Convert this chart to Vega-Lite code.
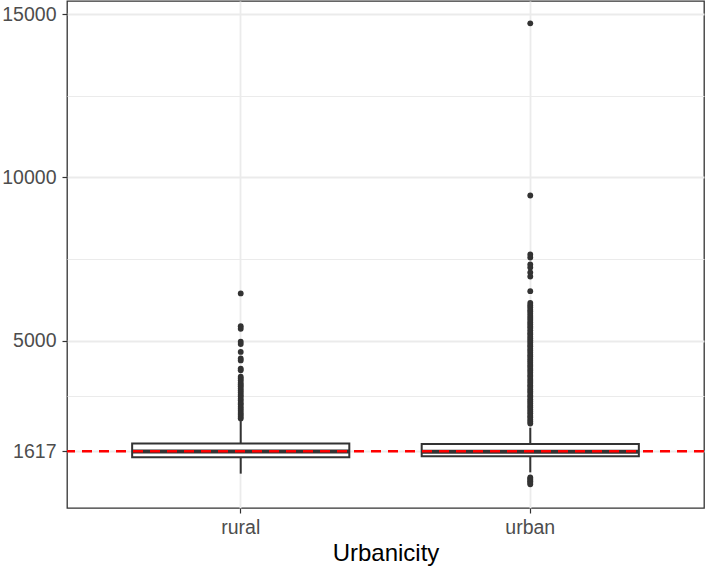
{
  "$schema": "https://vega.github.io/schema/vega-lite/v6.json",
  "width": 637,
  "height": 507,
  "autosize": {"type": "none"},
  "padding": {"left": 67, "top": 1, "right": 1, "bottom": 62},
  "background": "white",
  "config": {
    "font": "Liberation Sans",
    "view": {"stroke": "#333333", "strokeWidth": 1.3},
    "axis": {"domain": false, "gridColor": "#EBEBEB", "tickColor": "#333333", "labelColor": "#4D4D4D", "labelFontSize": 19.5, "titleFontWeight": "normal", "titleColor": "#000000"}
  },
  "datasets": {
    "boxes": [
      {"area": "rural", "lo": 935, "q1": 1440, "med": 1610, "q3": 1855, "hi": 2544},
      {"area": "urban", "lo": 975, "q1": 1464, "med": 1607, "q3": 1846, "hi": 2342}
    ],
    "refline": [{"cutoff": 1617}],
    "outliers": [
      {"area": "rural", "v": 6449}, {"area": "rural", "v": 5449}, {"area": "rural", "v": 5369},
      {"area": "rural", "v": 4975}, {"area": "rural", "v": 4900}, {"area": "rural", "v": 4660},
      {"area": "rural", "v": 4460}, {"area": "rural", "v": 4400}, {"area": "rural", "v": 4150},
      {"area": "rural", "v": 4100}, {"area": "rural", "v": 3900}, {"area": "rural", "v": 3850},
      {"area": "rural", "v": 3790}, {"area": "rural", "v": 3720}, {"area": "rural", "v": 3660},
      {"area": "rural", "v": 3610}, {"area": "rural", "v": 3540}, {"area": "rural", "v": 3480},
      {"area": "rural", "v": 3420}, {"area": "rural", "v": 3350}, {"area": "rural", "v": 3300},
      {"area": "rural", "v": 3230}, {"area": "rural", "v": 3170}, {"area": "rural", "v": 3100},
      {"area": "rural", "v": 3050}, {"area": "rural", "v": 2980}, {"area": "rural", "v": 2920},
      {"area": "rural", "v": 2860}, {"area": "rural", "v": 2790}, {"area": "rural", "v": 2740},
      {"area": "rural", "v": 2680}, {"area": "rural", "v": 2620},
      {"area": "urban", "v": 14715}, {"area": "urban", "v": 9446}, {"area": "urban", "v": 7641},
      {"area": "urban", "v": 7550}, {"area": "urban", "v": 7336}, {"area": "urban", "v": 7244},
      {"area": "urban", "v": 7091}, {"area": "urban", "v": 6969}, {"area": "urban", "v": 6519},
      {"area": "urban", "v": 6160}, {"area": "urban", "v": 6090}, {"area": "urban", "v": 6030},
      {"area": "urban", "v": 5950}, {"area": "urban", "v": 5900}, {"area": "urban", "v": 5830},
      {"area": "urban", "v": 5760}, {"area": "urban", "v": 5700}, {"area": "urban", "v": 5640},
      {"area": "urban", "v": 5570}, {"area": "urban", "v": 5510}, {"area": "urban", "v": 5440},
      {"area": "urban", "v": 5390}, {"area": "urban", "v": 5320}, {"area": "urban", "v": 5250},
      {"area": "urban", "v": 5200}, {"area": "urban", "v": 5130}, {"area": "urban", "v": 5070},
      {"area": "urban", "v": 5010}, {"area": "urban", "v": 4950}, {"area": "urban", "v": 4880},
      {"area": "urban", "v": 4830}, {"area": "urban", "v": 4760}, {"area": "urban", "v": 4700},
      {"area": "urban", "v": 4640}, {"area": "urban", "v": 4570}, {"area": "urban", "v": 4520},
      {"area": "urban", "v": 4450}, {"area": "urban", "v": 4390}, {"area": "urban", "v": 4330},
      {"area": "urban", "v": 4260}, {"area": "urban", "v": 4210}, {"area": "urban", "v": 4140},
      {"area": "urban", "v": 4080}, {"area": "urban", "v": 4020}, {"area": "urban", "v": 3950},
      {"area": "urban", "v": 3900}, {"area": "urban", "v": 3830}, {"area": "urban", "v": 3770},
      {"area": "urban", "v": 3710}, {"area": "urban", "v": 3640}, {"area": "urban", "v": 3590},
      {"area": "urban", "v": 3520}, {"area": "urban", "v": 3460}, {"area": "urban", "v": 3400},
      {"area": "urban", "v": 3330}, {"area": "urban", "v": 3280}, {"area": "urban", "v": 3210},
      {"area": "urban", "v": 3150}, {"area": "urban", "v": 3090}, {"area": "urban", "v": 3020},
      {"area": "urban", "v": 2970}, {"area": "urban", "v": 2900}, {"area": "urban", "v": 2840},
      {"area": "urban", "v": 2780}, {"area": "urban", "v": 2710}, {"area": "urban", "v": 2660},
      {"area": "urban", "v": 2590}, {"area": "urban", "v": 2530}, {"area": "urban", "v": 2470},
      {"area": "urban", "v": 820}, {"area": "urban", "v": 780}, {"area": "urban", "v": 740},
      {"area": "urban", "v": 700}, {"area": "urban", "v": 660}, {"area": "urban", "v": 610}
    ]
  },
  "encoding": {
    "x": {
      "field": "area", "type": "nominal",
      "scale": {"domain": ["rural", "urban"], "paddingInner": 0.25, "paddingOuter": 0.225},
      "axis": {"title": "Urbanicity", "titleFontSize": 24, "labelAngle": 0, "tickSize": 5, "tickWidth": 1.2, "labelPadding": 5, "titlePadding": 5, "grid": true, "gridWidth": 1.8, "bandPosition": 0.5}
    }
  },
  "layer": [
    {
      "data": {"name": "boxes"},
      "mark": {"type": "rule", "color": "#333333", "strokeWidth": 2},
      "encoding": {
        "y": {
          "field": "lo", "type": "quantitative",
          "scale": {"domain": [-116, 15398], "nice": false, "zero": false},
          "axis": {
            "title": null,
            "values": [1617, 3308.5, 5000, 7500, 10000, 12500, 15000],
            "labelExpr": "(datum.value == 1617 || datum.value % 5000 == 0) ? format(datum.value, 'd') : ''",
            "labelOverlap": false,
            "tickSize": 5,
            "tickWidth": 1.2,
            "labelPadding": 6,
            "tickOpacity": {"condition": {"test": "datum.value == 1617 || datum.value % 5000 == 0", "value": 1}, "value": 0},
            "gridWidth": {"condition": {"test": "datum.value == 1617 || datum.value % 5000 == 0", "value": 1.8}, "value": 1}
          }
        },
        "y2": {"field": "hi"}
      }
    },
    {
      "data": {"name": "boxes"},
      "mark": {"type": "bar", "fill": "white", "stroke": "#333333", "strokeWidth": 2},
      "encoding": {
        "y": {"field": "q1", "type": "quantitative"},
        "y2": {"field": "q3"}
      }
    },
    {
      "data": {"name": "boxes"},
      "mark": {"type": "tick", "color": "#333333", "opacity": 1, "thickness": 4, "size": 217},
      "encoding": {
        "y": {"field": "med", "type": "quantitative"}
      }
    },
    {
      "data": {"name": "outliers"},
      "mark": {"type": "point", "filled": true, "color": "#333333", "opacity": 1, "size": 34},
      "encoding": {
        "y": {"field": "v", "type": "quantitative"}
      }
    },
    {
      "data": {"name": "refline"},
      "mark": {"type": "rule", "color": "#FF0000", "strokeWidth": 2.5, "strokeDash": [10, 7]},
      "encoding": {
        "x": null,
        "y": {"field": "cutoff", "type": "quantitative"}
      }
    }
  ]
}
